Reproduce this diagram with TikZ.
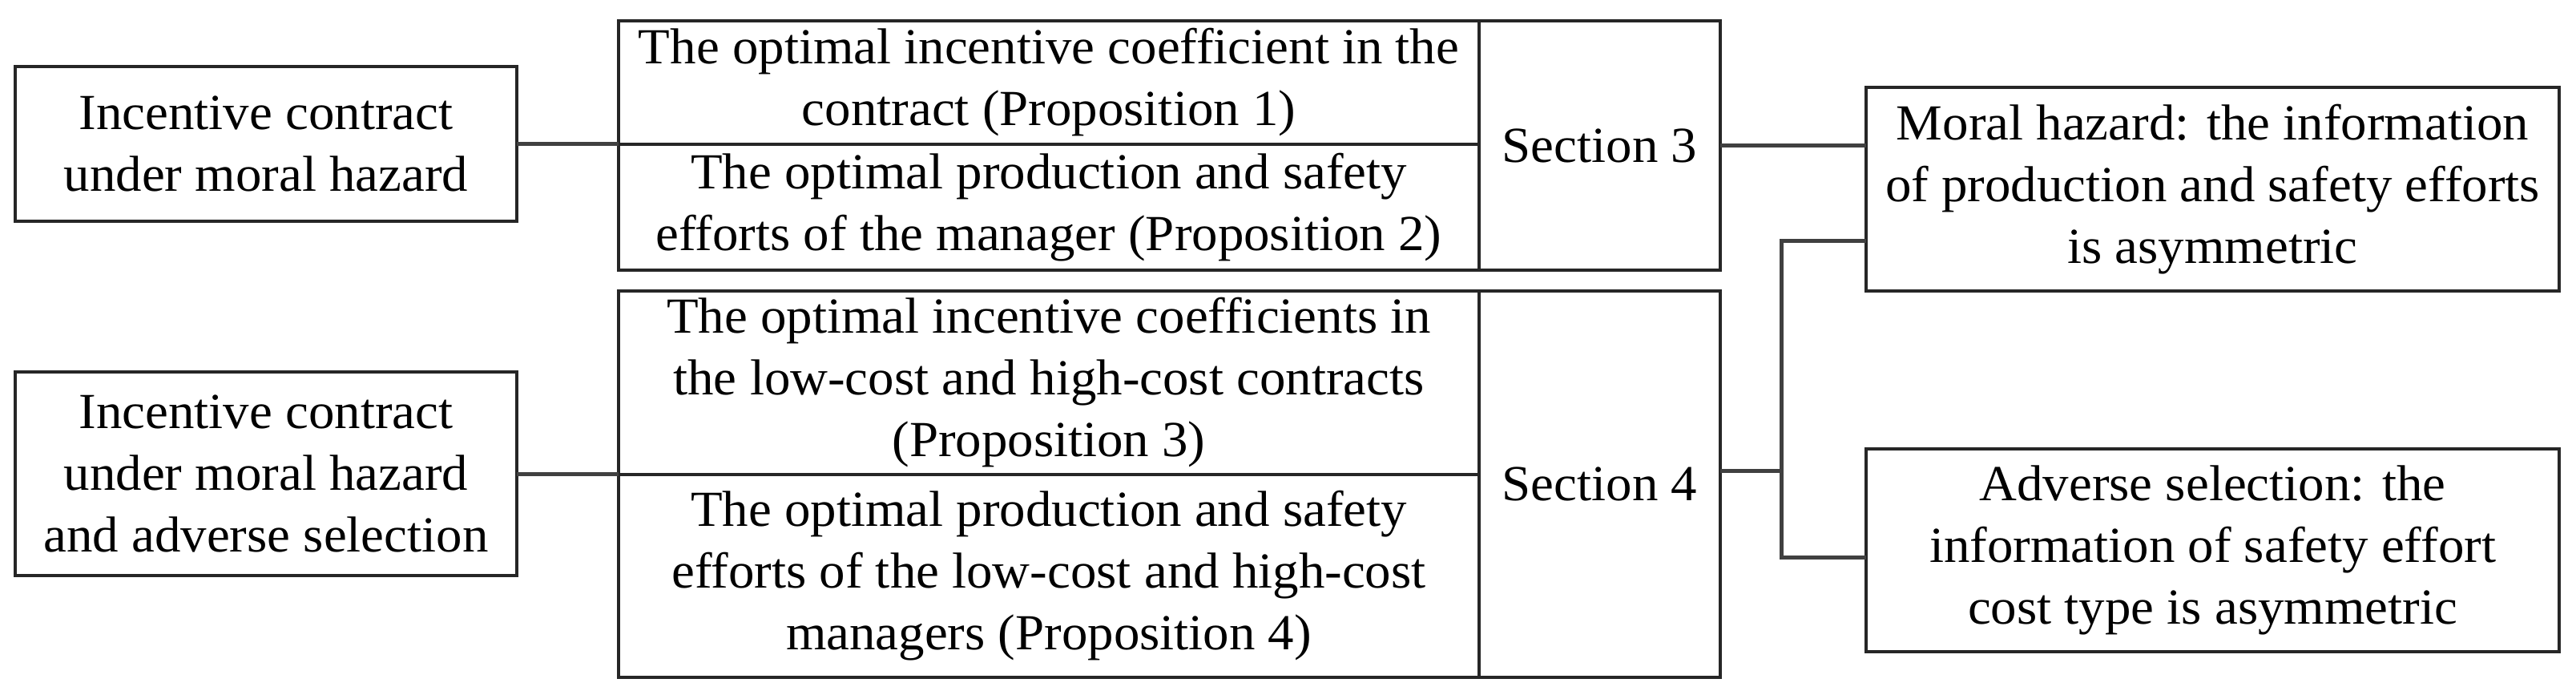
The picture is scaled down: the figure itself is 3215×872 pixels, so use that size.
\documentclass[tikz,border=0pt]{standalone}
\usepackage{fontspec}
\setmainfont{Liberation Serif}[FakeStretch=1.03]
\begin{document}
\begin{tikzpicture}[x=1pt,y=-1pt,
  cell/.style={draw=black!85, line width=4.5pt, rectangle, anchor=north west, inner sep=0pt, outer sep=0pt, align=center,
    font=\fontsize{63}{77}\selectfont},
  link/.style={draw=black!75, line width=5pt}]
\useasboundingbox (0,0) rectangle (3215,872);
% left boxes
\node[cell, minimum width=626pt, minimum height=193pt] (L1) at (19,83) {Incentive contract\\under moral hazard};
\node[cell, minimum width=626pt, minimum height=254pt] (L2) at (19,464) {Incentive contract\\under moral hazard\\and adverse selection};
% section 3 table
\node[cell, minimum width=1074pt, minimum height=154pt] (t3a) at (772,26) {The optimal incentive coefficient in the\\contract (Proposition 1)};
\node[cell, minimum width=1074pt, minimum height=157pt] (t3b) at (772,180) {The optimal production and safety\\efforts of the manager (Proposition 2)};
\node[cell, minimum width=301pt, minimum height=311pt] (s3) at (1846,26) {Section 3};
% section 4 table
\node[cell, minimum width=1074pt, minimum height=229pt] (t4a) at (772,363) {The optimal incentive coefficients in\\the low-cost and high-cost contracts\\(Proposition 3)};
\node[cell, minimum width=1074pt, minimum height=253pt] (t4b) at (772,592) {The optimal production and safety\\efforts of the low-cost and high-cost\\managers (Proposition 4)};
\node[cell, minimum width=301pt, minimum height=482pt] (s4) at (1846,363) {Section 4};
% right boxes
\node[cell, minimum width=865pt, minimum height=254pt] (R1) at (2329,109) {Moral hazard: the information\\of production and safety efforts\\is asymmetric};
\node[cell, minimum width=865pt, minimum height=253pt] (R2) at (2329,560) {Adverse selection: the\\information of safety effort\\cost type is asymmetric};
% connectors
\draw[link] (L1.east) -- (L1.east -| t3a.west);
\draw[link] (L2.east) -- (L2.east -| t4b.west);
\draw[link] (s3.east) -- (s3.east -| R1.west);
\coordinate (j4) at (2223,587);
\coordinate (j1) at (2223,300);
\coordinate (j2) at (2223,695);
\draw[link] (s4.east |- j4) -- (j4);
\draw[link] (R1.west |- j1) -- (j1) -- (j2) -- (R2.west |- j2);
\end{tikzpicture}
\end{document}
